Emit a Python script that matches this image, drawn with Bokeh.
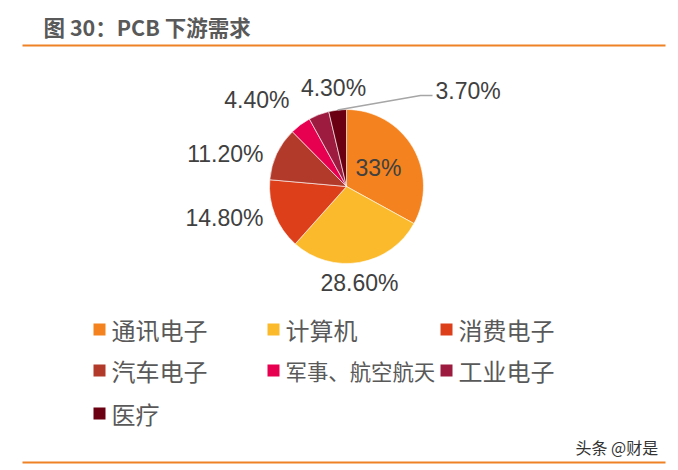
import math
from bokeh.plotting import figure
from bokeh.models import Range1d, ColumnDataSource
from bokeh.core.properties import value
from bokeh.embed import file_html
from bokeh.resources import INLINE

# ---- data ----
categories = ["通讯电子", "计算机", "消费电子", "汽车电子", "军事、航空航天", "工业电子", "医疗"]
shares = [33.0, 28.6, 14.8, 11.2, 4.4, 4.3, 3.7]
share_labels = ["33%", "28.60%", "14.80%", "11.20%", "4.40%", "4.30%", "3.70%"]
colors = ["#F4831F", "#FBBA2B", "#DE3F1B", "#B23A2A", "#E6004F", "#9D1B3E", "#6A0011"]
title_text = "图 30：PCB 下游需求"
source_text = "头条 @财是"

# ---- layout (picture pixel coords) ----
W, H = 670, 464
X0, Y0 = 0, 0
def Y(img_y):
    return (Y0 + H) - img_y

p = figure(width=W, height=H, output_backend="svg", toolbar_location=None,
           x_range=Range1d(X0, X0 + W), y_range=Range1d(0, H), min_border=0)
p.axis.visible = False
p.grid.visible = False
p.outline_line_color = None
p.background_fill_color = "white"
p.border_fill_color = "white"

CJK = value("Noto Sans CJK SC")
LAT = value("Liberation Sans")

# title and rules
p.text(x=[43], y=[Y(26)], text=[title_text], text_font=CJK, text_font_style="bold",
       text_font_size="21.5px", text_color="#595959", text_baseline="middle", text_align="left")
p.line(x=[22, 665], y=[Y(45), Y(45)], line_color="#F08226", line_width=2)
p.line(x=[22, 665], y=[Y(462), Y(462)], line_color="#F08226", line_width=2)
p.text(x=[575], y=[Y(446)], text=[source_text], text_font=CJK, text_font_size="16px",
       text_color="#333333", text_baseline="middle", text_align="left")

# pie
cx, cy, R = 346, 186, 77
total = sum(shares)
starts, ends, mids = [], [], []
acc = 0.0
for v in shares:
    a0 = math.pi / 2 - 2 * math.pi * acc / total
    acc += v
    a1 = math.pi / 2 - 2 * math.pi * acc / total
    starts.append(a0); ends.append(a1); mids.append((a0 + a1) / 2)
src = ColumnDataSource(dict(start=starts, end=ends, color=colors))
p.wedge(x=cx, y=Y(cy), radius=R, radius_units="screen", start_angle="start", end_angle="end",
        direction="clock", fill_color="color", line_color="white", line_width=0.6, source=src)

# data labels: (dx, dy) offset from pie centre, anchor
label_layout = [
    (32, -19, "center"),
    (13, 96, "center"),
    (-83, 31, "right"),
    (-83, -33, "right"),
    (-57, -87, "right"),
    (-13, -99, "center"),
    (89, -96, "left"),
]
for lab, (dx, dy, al) in zip(share_labels, label_layout):
    p.text(x=[cx + dx], y=[Y(cy + dy)], text=[lab], text_font=LAT, text_font_size="23px",
           text_color="#404040", text_align=al, text_baseline="middle")

# leader line for last slice
m = mids[-1]
sx, sy = cx + R * math.cos(m), cy - R * math.sin(m)
p.line(x=[sx, 420, 432], y=[Y(sy), Y(95), Y(95)], line_color="#A6A6A6", line_width=1.5)

# legend
col_x = [93, 267, 440]
row_y = [329, 370, 413]
col_w = 150
for i, (name, c) in enumerate(zip(categories, colors)):
    r, k = divmod(i, 3)
    x, y = col_x[k], row_y[r]
    p.rect(x=[x + 6], y=[Y(y)], width=12, height=12, width_units="screen", height_units="screen",
           fill_color=c, line_color=None)
    fs = min(24, col_w / len(name))
    p.text(x=[x + 18], y=[Y(y)], text=[name], text_font=CJK, text_font_size=f"{fs:.1f}px",
           text_color="#595959", text_align="left", text_baseline="middle")

open("out.html", "w").write(file_html(p, INLINE))
